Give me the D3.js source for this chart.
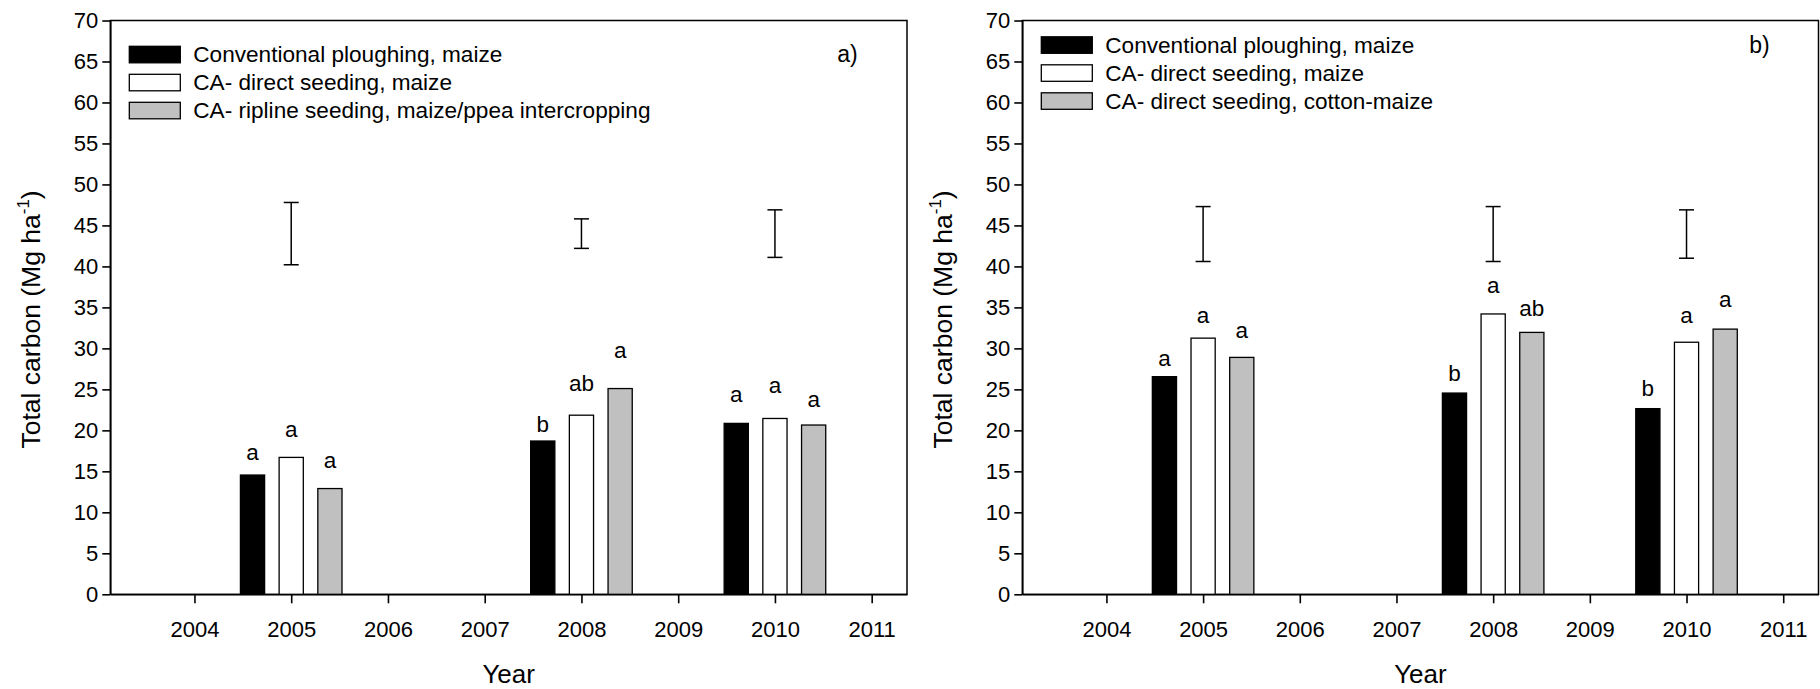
<!DOCTYPE html>
<html>
<head>
<meta charset="utf-8">
<script src="https://cdn.jsdelivr.net/npm/d3@7"></script>
<style>
  body { margin: 0; background: #fff; }
  svg text { font-family: Arial, "Liberation Sans", sans-serif; fill: #000; }
  .axis path, .axis line { stroke: #000; stroke-width: 1.6px; }
  .axis text { font-size: 22px; }
</style>
</head>
<body>
<div id="chart"></div>
<script>
//------------------------------ data ------------------------------
var years = [2005, 2008, 2010];
var tickYears = [2004, 2005, 2006, 2007, 2008, 2009, 2010, 2011];
var yTicks = [0, 5, 10, 15, 20, 25, 30, 35, 40, 45, 50, 55, 60, 65, 70];
var barColors = ["#000000", "#ffffff", "#c0c0c0"];

var legendA = ["Conventional ploughing, maize", "CA- direct seeding, maize", "CA- ripline seeding, maize/ppea intercropping"];
var legendB = ["Conventional ploughing, maize", "CA- direct seeding, maize", "CA- direct seeding, cotton-maize"];

// one row per treatment, one value per year
var carbonA = [[14.55, 18.7, 20.85], [16.7, 21.85, 21.45], [12.9, 25.1, 20.65]];
var lettersA = [["a", "b", "a"], ["a", "ab", "a"], ["a", "a", "a"]];
var letterPosA = [[16.4, 19.8, 23.5], [19.15, 24.8, 24.5], [15.4, 28.8, 22.9]];
var lsdA = [[40.2, 47.8], [42.2, 45.8], [41.1, 46.9]];

var carbonB = [[26.55, 24.55, 22.65], [31.25, 34.2, 30.75], [28.9, 31.95, 32.35]];
var lettersB = [["a", "b", "b"], ["a", "a", "a"], ["a", "ab", "a"]];
var letterPosB = [[27.8, 26.0, 24.2], [33.15, 36.8, 33.05], [31.3, 34.0, 35.0]];
var lsdB = [[40.6, 47.3], [40.6, 47.3], [41.0, 46.9]];

//------------------------------ svg ------------------------------
var svg = d3.select("#chart").append("svg")
	.attr("width", 1820)
	.attr("height", 689);

var barOffsets = [-0.4, 0, 0.4];
var barWidthYears = 0.25;

function drawPanel(left, right, legend, carbon, letters, letterPos, lsd, tag, legendTop) {
	var top = 20.5, bottom = 594.3;

	var x = d3.scaleLinear().domain([2003.13, 2011.365]).range([left, right]);
	var y = d3.scaleLinear().domain([0, 70]).range([bottom, top]);

	var g = svg.append("g");

	// frame
	g.append("rect")
		.attr("x", left).attr("y", top)
		.attr("width", right - left).attr("height", bottom - top)
		.attr("fill", "none").attr("stroke", "#000").attr("stroke-width", 1.5);

	//bars
	carbon.forEach(function(series, s) {
		g.selectAll(".bar" + s)
			.data(series)
			.enter().append("rect")
			.attr("x", function(d, i) { return x(years[i] + barOffsets[s] - barWidthYears / 2); })
			.attr("width", x(2004 + barWidthYears) - x(2004))
			.attr("y", function(d) { return y(d); })
			.attr("height", function(d) { return y(0) - y(d); })
			.attr("fill", barColors[s])
			.attr("stroke", "#000")
			.attr("stroke-width", 1.3);

		g.selectAll(".letter" + s)
			.data(letters[s])
			.enter().append("text")
			.attr("x", function(d, i) { return x(years[i] + barOffsets[s]); })
			.attr("y", function(d, i) { return y(letterPos[s][i]); })
			.attr("text-anchor", "middle")
			.style("font-size", "22.5px")
			.text(function(d) { return d; });
	});

	// LSD bars
	var cap = 7.5;
	var eb = g.selectAll(".lsd").data(lsd).enter().append("g");
	eb.append("line")
		.attr("x1", function(d, i) { return x(years[i]); })
		.attr("x2", function(d, i) { return x(years[i]); })
		.attr("y1", function(d) { return y(d[0]); })
		.attr("y2", function(d) { return y(d[1]); });
	eb.append("line")
		.attr("x1", function(d, i) { return x(years[i]) - cap; })
		.attr("x2", function(d, i) { return x(years[i]) + cap; })
		.attr("y1", function(d) { return y(d[0]); })
		.attr("y2", function(d) { return y(d[0]); });
	eb.append("line")
		.attr("x1", function(d, i) { return x(years[i]) - cap; })
		.attr("x2", function(d, i) { return x(years[i]) + cap; })
		.attr("y1", function(d) { return y(d[1]); })
		.attr("y2", function(d) { return y(d[1]); });
	eb.selectAll("line").attr("stroke", "#000").attr("stroke-width", 1.5);

	// axes
	g.append("g")
		.attr("class", "axis")
		.attr("transform", "translate(" + left + ",0)")
		.call(d3.axisLeft(y).tickValues(yTicks).tickSize(8).tickPadding(4).tickSizeOuter(0));

	var xAxis = g.append("g")
		.attr("class", "axis")
		.attr("transform", "translate(0," + bottom + ")")
		.call(d3.axisBottom(x).tickValues(tickYears).tickFormat(d3.format("d")).tickSize(9).tickPadding(18).tickSizeOuter(0));
	xAxis.select(".domain").attr("stroke-width", 2.2);

	// titles
	g.append("text")
		.attr("x", (left + right) / 2)
		.attr("y", 683)
		.attr("text-anchor", "middle")
		.style("font-size", "26px")
		.text("Year");

	var yt = g.append("text")
		.attr("transform", "translate(" + (left - 70) + "," + ((top + bottom) / 2 + 12) + ") rotate(-90)")
		.attr("text-anchor", "middle")
		.style("font-size", "26.5px");
	yt.append("tspan").text("Total carbon (Mg ha");
	yt.append("tspan").attr("dy", -11).style("font-size", "17px").text("-1");
	yt.append("tspan").attr("dy", 11).text(")");

	g.append("text")
		.attr("x", left + 727)
		.attr("y", legendTop + 16)
		.style("font-size", "23px")
		.text(tag);

	// legend
	var lg = g.selectAll(".legend").data(legend).enter().append("g")
		.attr("transform", function(d, i) { return "translate(" + (left + 19) + "," + (legendTop + i * 28) + ")"; });
	lg.append("rect")
		.attr("width", 51).attr("height", 16.5)
		.attr("fill", function(d, i) { return barColors[i]; })
		.attr("stroke", "#000").attr("stroke-width", 1.3);
	lg.append("text")
		.attr("x", 64)
		.attr("y", 16)
		.style("font-size", "22.6px")
		.text(function(d) { return d; });
}

drawPanel(110.3, 907, legendA, carbonA, lettersA, letterPosA, lsdA, "a)", 46.3);
drawPanel(1022.3, 1818.5, legendB, carbonB, lettersB, letterPosB, lsdB, "b)", 36.8);
</script>
</body>
</html>
